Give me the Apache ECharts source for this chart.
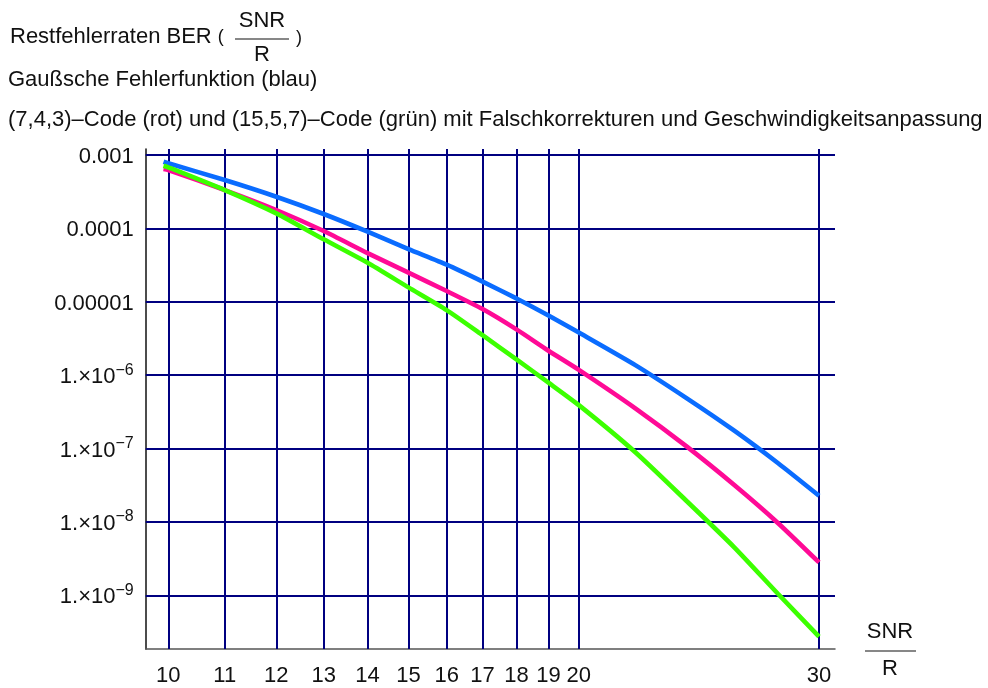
<!DOCTYPE html>
<html>
<head>
<meta charset="utf-8">
<script src="https://cdn.jsdelivr.net/npm/echarts@6/dist/echarts.min.js"></script>
<style>
  html, body { margin: 0; padding: 0; background: #ffffff; }
  #chart { width: 988px; height: 688px; }
</style>
</head>
<body>
<div id="chart"></div>
<script>
// Signal-to-noise ratio per code rate (SNR/R)
const snr = [9.92, 10, 11, 12, 13, 14, 15, 16, 17, 18, 19, 20, 22, 24, 26, 28, 30];

// Residual bit error rates
const berGauss = [8.1e-4, 7.7e-4, 4.56e-4, 2.7e-4, 1.57e-4, 9.0e-5, 5.2e-5, 3.2e-5, 1.88e-5, 1.11e-5, 6.5e-6, 3.8e-6, 1.37e-6, 4.83e-7, 1.75e-7, 6.3e-8, 2.27e-8];
const ber743 = [6.44e-4, 6.25e-4, 3.33e-4, 1.78e-4, 9.2e-5, 4.6e-5, 2.49e-5, 1.40e-5, 7.96e-6, 4.2e-6, 2.15e-6, 1.18e-6, 3.53e-7, 1.06e-7, 3.18e-8, 9.6e-9, 2.8e-9];
const ber1557 = [7.15e-4, 6.8e-4, 3.33e-4, 1.6e-4, 7.1e-5, 3.4e-5, 1.57e-5, 7.7e-6, 3.5e-6, 1.64e-6, 7.9e-7, 3.9e-7, 8.9e-8, 1.91e-8, 4.5e-9, 1.04e-9, 2.73e-10];

// Tick positions and their labels
const xTicks = [10, 11, 12, 13, 14, 15, 16, 17, 18, 19, 20, 30];
const yTicks = [1e-9, 1e-8, 1e-7, 1e-6, 1e-5, 1e-4, 1e-3];
const yTickText = ['1.×10^−9', '1.×10^−8', '1.×10^−7', '1.×10^−6', '0.00001', '0.0001', '0.001'];

// Axis ranges
const xRange = [9.626, 30.82];
const yRange = [1.853e-10, 1.207e-3];

const FONT = "'Liberation Sans', Arial, sans-serif";
const INK = '#111111';
const GRID_BLUE = '#000080';

const chart = echarts.init(document.getElementById('chart'), null, { renderer: 'canvas' });

function pair(xs, ys) {
  return xs.map((x, i) => [x, ys[i]]);
}

function yLabel(v) {
  const lv = Math.log10(v);
  const i = yTicks.findIndex(t => Math.abs(Math.log10(t) - lv) < 1e-6);
  if (i < 0) return '';
  const t = yTickText[i];
  if (t.indexOf('^') >= 0) {
    const parts = t.split('^');
    return '{m|' + parts[0] + '}{e|' + parts[1] + '}';
  }
  return '{m|' + t + '}';
}

function curve(name, ys, color) {
  return {
    name: name,
    type: 'line',
    data: pair(snr, ys),
    showSymbol: false,
    symbol: 'none',
    smooth: 0.2,
    z: 5,
    lineStyle: { color: color, width: 4.6 },
    emphasis: { disabled: true },
    silent: true
  };
}

// grid lines: vertical at each x tick, horizontal at each decade
const gridLines = xTicks.map(v => [{ coord: [v, yRange[0]] }, { coord: [v, yRange[1]] }])
  .concat(yTicks.map(v => [{ coord: [xRange[0], v] }, { coord: [xRange[1], v] }]));

const txt = (size) => size + 'px ' + FONT;

const option = {
  animation: false,
  backgroundColor: '#ffffff',
  grid: {
    left: 145.7, right: 153, top: 149, bottom: 39,
    containLabel: false,
    outerBoundsMode: 'none'
  },
  xAxis: {
    type: 'log',
    logBase: 10,
    min: xRange[0],
    max: xRange[1],
    axisLine: { show: true, onZero: false, lineStyle: { color: '#555555', width: 1.5 } },
    axisTick: { show: false },
    splitLine: { show: false },
    axisLabel: {
      customValues: xTicks,
      formatter: v => String(Math.round(v)),
      fontSize: 22,
      fontFamily: FONT,
      color: INK,
      margin: 16
    }
  },
  yAxis: {
    type: 'log',
    logBase: 10,
    min: yRange[0],
    max: yRange[1],
    axisLine: { show: true, onZero: false, lineStyle: { color: '#111111', width: 1.5 } },
    axisTick: { show: false },
    splitLine: { show: false },
    axisLabel: {
      customValues: yTicks,
      formatter: yLabel,
      margin: 12,
      rich: {
        m: { fontSize: 22, fontFamily: FONT, color: INK, lineHeight: 26, padding: [4, 0, 0, 0] },
        e: { fontSize: 16, fontFamily: FONT, color: INK, lineHeight: 18, verticalAlign: 'top' }
      }
    }
  },
  series: [
    {
      name: 'grid',
      type: 'line',
      data: [],
      silent: true,
      z: 1,
      markLine: {
        silent: true,
        animation: false,
        symbol: ['none', 'none'],
        label: { show: false },
        emphasis: { disabled: true },
        lineStyle: { color: GRID_BLUE, width: 2, type: 'solid' },
        data: gridLines
      }
    },
    curve('Gauß', berGauss, '#0a6cff'),
    curve('(7,4,3)', ber743, '#ff0a96'),
    curve('(15,5,7)', ber1557, '#3cff00')
  ],
  graphic: [
    // heading, line 1 with the SNR/R fraction
    { type: 'text', x: 10, y: 37, style: { text: '{t|Restfehlerraten BER }{p|(}', verticalAlign: 'middle',
        rich: { t: { font: txt(22), fill: INK }, p: { font: txt(18), fill: INK } } } },
    { type: 'text', x: 262, y: 21, style: { text: 'SNR', font: txt(22), fill: INK, align: 'center', verticalAlign: 'middle' } },
    { type: 'line', shape: { x1: 235, y1: 39, x2: 289, y2: 39 }, style: { stroke: INK, lineWidth: 1.2 } },
    { type: 'text', x: 262, y: 55, style: { text: 'R', font: txt(22), fill: INK, align: 'center', verticalAlign: 'middle' } },
    { type: 'text', x: 296, y: 38, style: { text: ')', font: txt(18), fill: INK, verticalAlign: 'middle' } },
    // heading, lines 2 and 3
    { type: 'text', x: 8, y: 80, style: { text: 'Gaußsche Fehlerfunktion (blau)', font: txt(22), fill: INK, verticalAlign: 'middle' } },
    { type: 'text', x: 8, y: 120, style: { text: '(7,4,3)–Code (rot) und (15,5,7)–Code (grün) mit Falschkorrekturen und Geschwindigkeitsanpassung', font: txt(22), fill: INK, verticalAlign: 'middle' } },
    // axis name SNR/R
    { type: 'text', x: 890, y: 632, style: { text: 'SNR', font: txt(22), fill: INK, align: 'center', verticalAlign: 'middle' } },
    { type: 'line', shape: { x1: 865, y1: 651, x2: 916, y2: 651 }, style: { stroke: INK, lineWidth: 1.2 } },
    { type: 'text', x: 890, y: 669, style: { text: 'R', font: txt(22), fill: INK, align: 'center', verticalAlign: 'middle' } }
  ]
};

chart.setOption(option);
</script>
</body>
</html>
